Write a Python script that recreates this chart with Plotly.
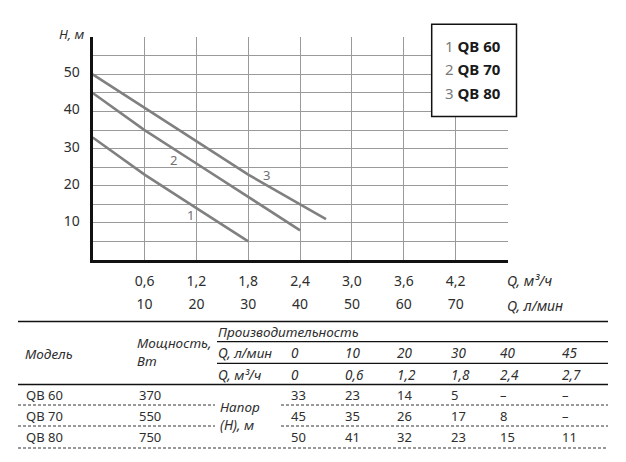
import plotly.graph_objects as go

W, H = 626, 462

# ---------------- data ----------------
models = ["QB 60", "QB 70", "QB 80"]
curve_ids = ["1", "2", "3"]
power_w = [370, 550, 750]
q_lmin = [0, 10, 20, 30, 40, 45]
q_m3h = [0, 0.6, 1.2, 1.8, 2.4, 2.7]
q_m3h_text = ["0", "0,6", "1,2", "1,8", "2,4", "2,7"]
head = [
    [33, 23, 14, 5, None, None],
    [45, 35, 26, 17, 8, None],
    [50, 41, 32, 23, 15, 11],
]
x_tickvals = [0.6, 1.2, 1.8, 2.4, 3.0, 3.6, 4.2]
x_ticktext_m3h = ["0,6", "1,2", "1,8", "2,4", "3,0", "3,6", "4,2"]
x_ticktext_lmin = ["10", "20", "30", "40", "50", "60", "70"]
y_tickvals = [10, 20, 30, 40, 50]
label_pos = [(1.13, 12.0), (0.93, 27.0), (2.01, 22.8)]

FONT = "Noto Sans"
TXT = "#2e2e2e"
LINE_C = "#808080"
GRID_C = "#9a9a9a"


def px(x):
    return x / W


def py(y):
    return 1 - y / H


fig = go.Figure()

for i, m in enumerate(models):
    xs = [q for q, h in zip(q_m3h, head[i]) if h is not None]
    ys = [h for h in head[i] if h is not None]
    fig.add_trace(go.Scatter(x=xs, y=ys, mode="lines", name=m,
                             line=dict(color=LINE_C, width=2.6),
                             showlegend=False, hoverinfo="skip"))
# helper trace for second x axis
fig.add_trace(go.Scatter(x=[None], y=[None], xaxis="x2", yaxis="y",
                         showlegend=False, hoverinfo="skip"))

x_dom = [px(92.7), px(507.5)]
y_dom = [py(260), py(37.3)]

fig.update_layout(
    width=W, height=H,
    margin=dict(l=0, r=0, t=0, b=0),
    paper_bgcolor="white", plot_bgcolor="white",
    font=dict(family=FONT, color=TXT, size=14),
    xaxis=dict(domain=x_dom, range=[0, 4.8], tickvals=x_tickvals,
               ticktext=x_ticktext_m3h, showgrid=True, gridcolor=GRID_C,
               gridwidth=1, showline=True, linecolor="#111", linewidth=3,
               zeroline=False, ticks="", tickfont=dict(size=14),
               ticklabelstandoff=6,
               minor=dict(dtick=0.6, tick0=0, showgrid=True, gridcolor=GRID_C, gridwidth=1),
               anchor="y", fixedrange=True),
    xaxis2=dict(overlaying="x", matches="x", range=[0, 4.8], tickvals=x_tickvals,
                ticktext=x_ticktext_lmin, showgrid=False, showline=False,
                zeroline=False, ticks="", anchor="free", position=py(294),
                tickfont=dict(size=14), side="bottom"),
    yaxis=dict(domain=y_dom, range=[0, 60], tickvals=y_tickvals,
               showgrid=True, gridcolor=GRID_C, gridwidth=1,
               showline=True, linecolor="#111", linewidth=3, zeroline=False,
               ticks="", ticklabelshift=-2, ticklabelstandoff=7, tickfont=dict(size=14),
               minor=dict(dtick=5, tick0=0, showgrid=True, gridcolor=GRID_C, gridwidth=1),
               fixedrange=True),
)

ann = []
# curve number labels
for cid, (lx, ly) in zip(curve_ids, label_pos):
    ann.append(dict(x=lx, y=ly, xref="x", yref="y", text=cid, showarrow=False,
                    font=dict(size=13, color="#707070")))

# axis titles
ann.append(dict(x=px(57), y=py(34), xref="paper", yref="paper", text="<i>H, м</i>",
                showarrow=False, xanchor="left", yanchor="middle", font=dict(size=13)))
ann.append(dict(x=px(505), y=py(280), xref="paper", yref="paper", text="<i>Q, м³/ч</i>",
                showarrow=False, xanchor="left", yanchor="middle", font=dict(size=14)))
ann.append(dict(x=px(505), y=py(305), xref="paper", yref="paper", text="<i>Q, л/мин</i>",
                showarrow=False, xanchor="left", yanchor="middle", font=dict(size=14)))

shapes = []
# legend box
shapes.append(dict(type="rect", xref="paper", yref="paper", x0=px(431.7), x1=px(516.5),
                   y0=py(116.5), y1=py(24.3), line=dict(color="#111", width=1.5),
                   fillcolor="white", layer="above"))
for i, (cid, m) in enumerate(zip(curve_ids, models)):
    ann.append(dict(x=px(443), y=py(45.7 + i * 23.5), xref="paper", yref="paper",
                    text=f"<span style='color:#7a7a7a'>{cid}</span> <b>{m}</b>",
                    showarrow=False, xanchor="left", yanchor="middle",
                    font=dict(size=15, color="#1a1a1a")))

# ---------------- table ----------------
TL, TR = 18, 608
shapes.append(dict(type="line", xref="paper", yref="paper", x0=px(TL), x1=px(TR),
                   y0=py(321.5), y1=py(321.5), line=dict(color="#111", width=1.3)))
for yy in (341.7, 363.3):
    shapes.append(dict(type="line", xref="paper", yref="paper", x0=px(217), x1=px(TR),
                       y0=py(yy), y1=py(yy), line=dict(color="#111", width=1.3)))
shapes.append(dict(type="line", xref="paper", yref="paper", x0=px(TL), x1=px(TR),
                   y0=py(384.5), y1=py(384.5), line=dict(color="#111", width=1.3)))
for k, yy in enumerate((405, 426, 448)):
    if k < 2:
        segs = [(TL, 215), (281, TR)]
    else:
        segs = [(TL, TR)]
    for a, b in segs:
        shapes.append(dict(type="line", xref="paper", yref="paper", x0=px(a), x1=px(b),
                           y0=py(yy), y1=py(yy),
                           line=dict(color="#333", width=1, dash="3px,2px")))

TFS = 13


def tann(x, y, text, italic=False, size=TFS):
    t = f"<i>{text}</i>" if italic else text
    ann.append(dict(x=px(x), y=py(y), xref="paper", yref="paper", text=t,
                    showarrow=False, xanchor="left", yanchor="middle", align="left",
                    font=dict(size=size, color=TXT)))


tann(216, 331.5, "Производительность", True, 13.5)
tann(23, 354, "Модель", True, 13.5)
tann(135, 352, "Мощность,<br>Вт", True, 13.5)
tann(216, 353, "Q, л/мин", True, 13.5)
tann(216, 374.5, "Q, м³/ч", True, 13.5)
tann(218, 416, "Напор<br>(H), м", True, 13.5)

col_x = [289, 343, 395, 449, 498, 560]
for cx, ql, qm in zip(col_x, q_lmin, q_m3h_text):
    tann(cx, 353, str(ql), True, 13.5)
    tann(cx, 374.5, qm, True, 13.5)

row_y = [395, 415.5, 436.5]
for ry, m, pw, hrow in zip(row_y, models, power_w, head):
    tann(24, ry, m)
    tann(137, ry, str(pw))
    for cx, h in zip(col_x, hrow):
        tann(cx, ry, "–" if h is None else str(h))

fig.update_layout(annotations=ann, shapes=shapes)
fig.write_html("out.html", config={"displayModeBar": False},
               post_script="document.body.style.margin='0';document.body.style.overflow='hidden';")
